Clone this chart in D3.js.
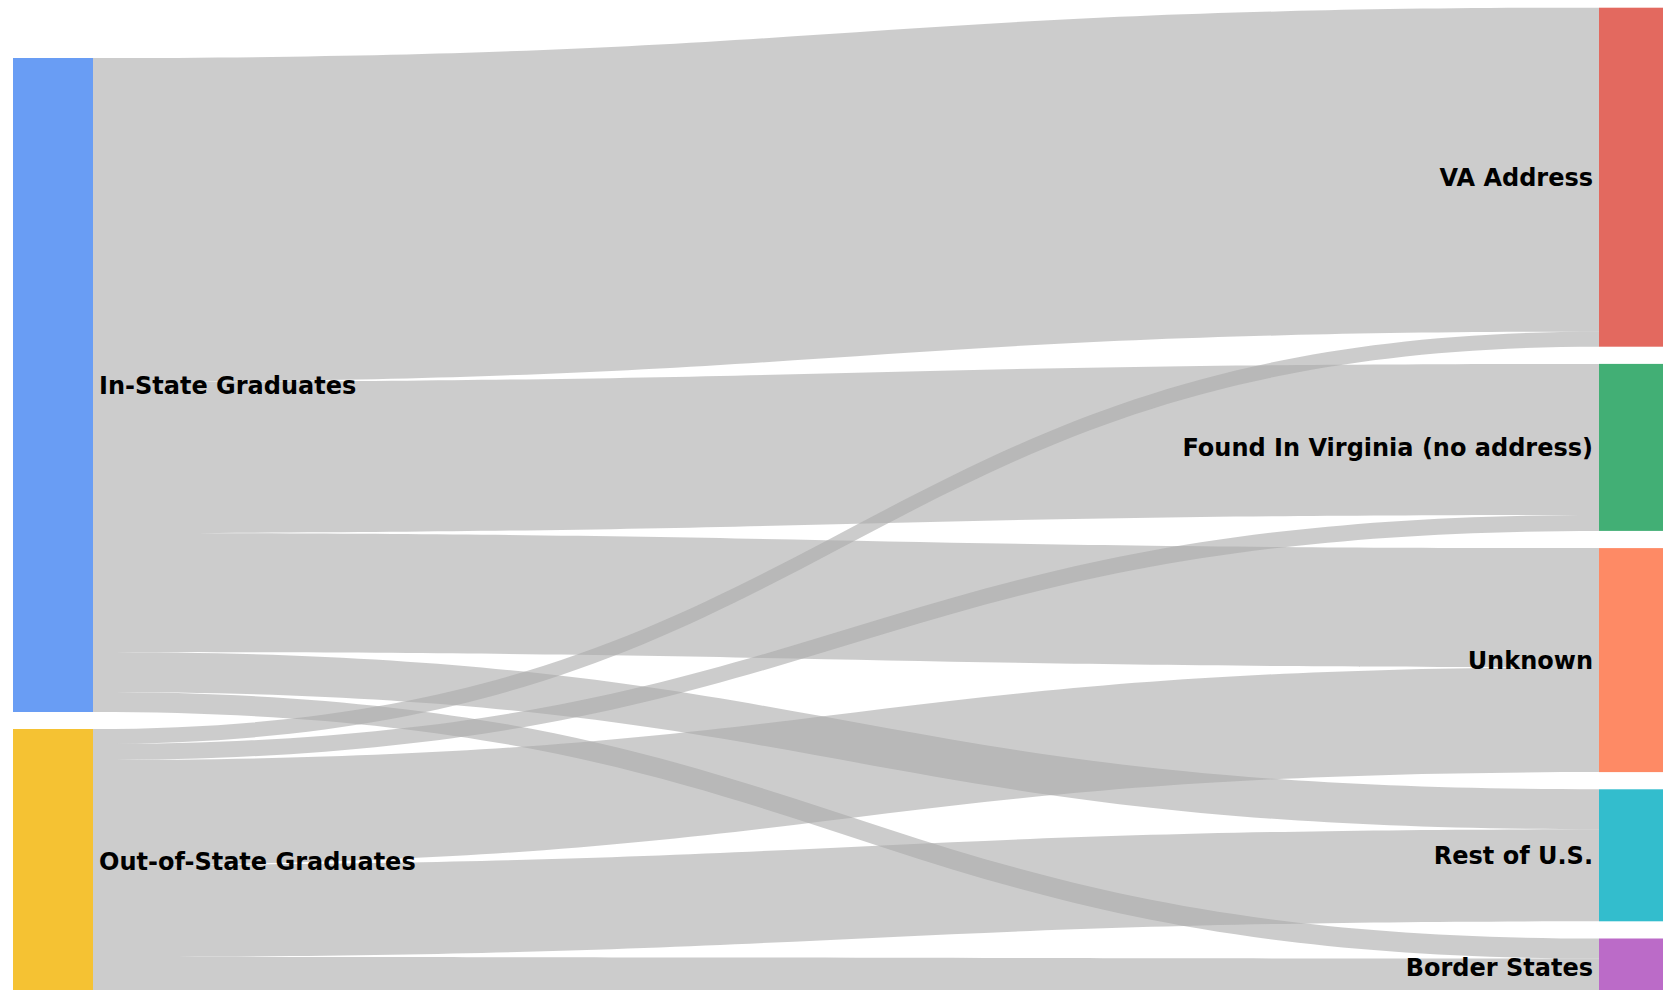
<!DOCTYPE html>
<html>
<head>
<meta charset="utf-8">
<script src="https://cdn.jsdelivr.net/npm/d3@7"></script>
<style>
  html, body { margin: 0; padding: 0; background: #fff; overflow: hidden; }
  svg { display: block; }
  text { font-family: "DejaVu Sans", Verdana, sans-serif; font-weight: bold; font-size: 24px; fill: #000; }
</style>
</head>
<body>
<svg id="chart" width="1663" height="990"></svg>
<script>
// ---- data ----
const sources = ["In-State Graduates", "Out-of-State Graduates"];
const targets = ["VA Address", "Found In Virginia (no address)", "Unknown", "Rest of U.S.", "Border States"];
const inStateValues  = [324, 151, 119, 40, 20];
const outStateValues = [15, 16, 105, 92, 37];
const sourceColors = ["#699df4", "#f5c233"];
const targetColors = ["#e3695f", "#42af75", "#fe8a65", "#33bdcd", "#bb6bc8"];

// ---- layout ----
const W = 1663, H = 990;
const nodeWidth = 80;
const leftX = 13, rightX = 1599;
const leftTop = 58, rightTop = 7.7;
const pad = 17.2, leftPad = 17;

const flows = [inStateValues, outStateValues];
const links = [];
sources.forEach((s, i) => targets.forEach((t, j) => links.push({ si: i, ti: j, value: flows[i][j] })));

const srcTotals = sources.map((s, i) => d3.sum(flows[i]));
const tgtTotals = targets.map((t, j) => d3.sum(flows, f => f[j]));
const total = d3.sum(tgtTotals);

// 1 unit of flow = 1 px
const ky = d3.scaleLinear().domain([0, total]).range([0, total]);

function stack(totals, top, p) {
  let y = top;
  return totals.map(v => { const n = { y0: y, y1: y + ky(v) }; y = n.y1 + p; return n; });
}
const srcNodes = stack(srcTotals, leftTop, leftPad);
const tgtNodes = stack(tgtTotals, rightTop, pad);

// link offsets at source (ordered by target) and target (ordered by source)
const srcOff = srcNodes.map(n => n.y0);
const tgtOff = tgtNodes.map(n => n.y0);
links.forEach(l => {
  const h = ky(l.value);
  l.sy0 = srcOff[l.si]; l.sy1 = l.sy0 + h; srcOff[l.si] = l.sy1;
});
targets.forEach((t, j) => {
  links.filter(l => l.ti === j).sort((a, b) => a.si - b.si).forEach(l => {
    const h = ky(l.value);
    l.ty0 = tgtOff[j]; l.ty1 = l.ty0 + h; tgtOff[j] = l.ty1;
  });
});

const svg = d3.select("#chart");
const x0 = leftX + nodeWidth, x1 = rightX;
const xm = (x0 + x1) / 2;

function linkPath(l) {
  const p = d3.path();
  p.moveTo(x0, l.sy0);
  p.bezierCurveTo(xm, l.sy0, xm, l.ty0, x1, l.ty0);
  p.lineTo(x1, l.ty1);
  p.bezierCurveTo(xm, l.ty1, xm, l.sy1, x0, l.sy1);
  p.closePath();
  return p.toString();
}

svg.append("g").selectAll("path")
  .data(links)
  .join("path")
  .attr("d", linkPath)
  .attr("fill", "#aaaaaa")
  .attr("fill-opacity", 0.6);

// nodes
svg.append("g").selectAll("rect")
  .data(srcNodes)
  .join("rect")
  .attr("x", leftX).attr("width", nodeWidth)
  .attr("y", d => d.y0).attr("height", d => d.y1 - d.y0)
  .attr("fill", (d, i) => sourceColors[i]);

svg.append("g").selectAll("rect")
  .data(tgtNodes)
  .join("rect")
  .attr("x", rightX).attr("width", nodeWidth)
  .attr("y", d => d.y0).attr("height", d => d.y1 - d.y0)
  .attr("fill", (d, i) => targetColors[i]);

// labels
svg.append("g").selectAll("text")
  .data(srcNodes)
  .join("text")
  .attr("x", leftX + nodeWidth + 6)
  .attr("y", d => (d.y0 + d.y1) / 2)
  .attr("dy", "0.36em")
  .attr("text-anchor", "start")
  .text((d, i) => sources[i]);

svg.append("g").selectAll("text")
  .data(tgtNodes)
  .join("text")
  .attr("x", rightX - 6)
  .attr("y", d => (d.y0 + d.y1) / 2)
  .attr("dy", "0.36em")
  .attr("text-anchor", "end")
  .text((d, i) => targets[i]);
</script>
</body>
</html>
